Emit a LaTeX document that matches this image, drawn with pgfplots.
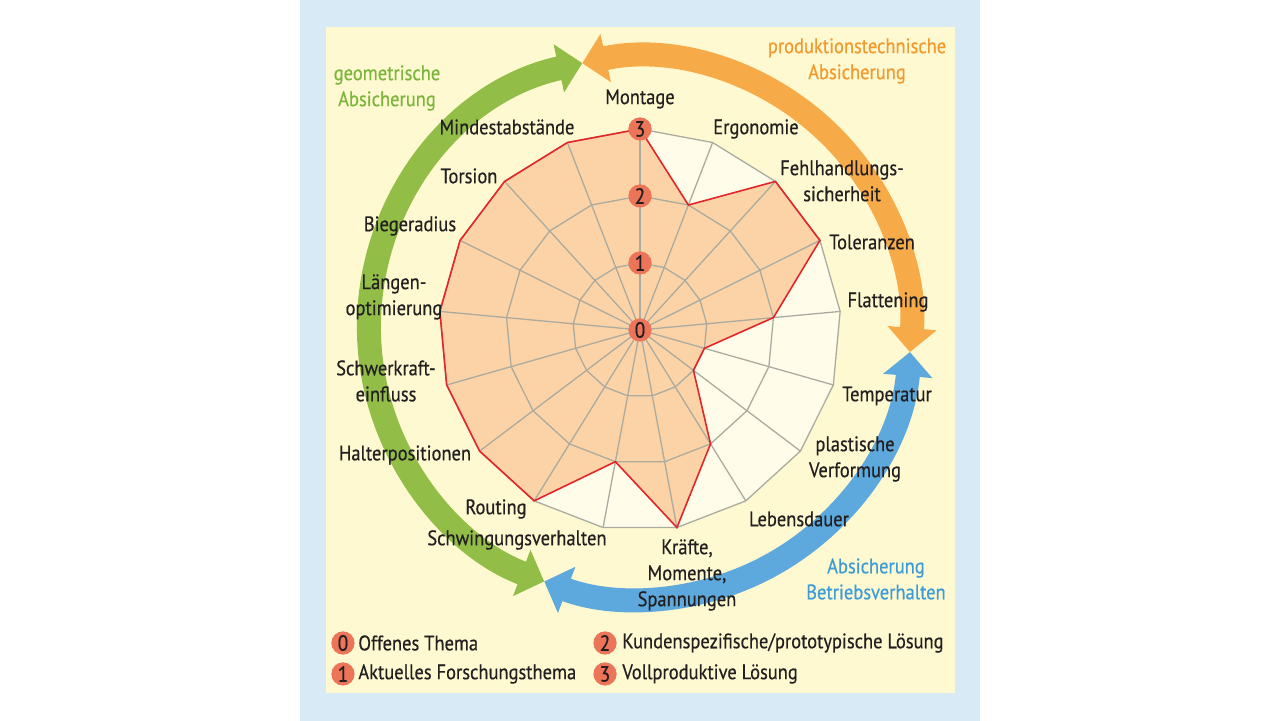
\documentclass[border=0pt]{standalone}
\usepackage{fontspec}
\setmainfont{PT Sans}[FakeStretch=0.88, FakeBold=0.5]
\usepackage{pgfplots}
\usepackage{pgfplotstable}
\pgfplotsset{compat=1.18}
\usetikzlibrary{arrows.meta}

\definecolor{frameblue}{HTML}{D7EAF6}
\definecolor{cream}{HTML}{FEF9D1}
\definecolor{innerwhite}{HTML}{FFFCEA}
\definecolor{peach}{HTML}{FBD3A6}
\definecolor{redline}{HTML}{E2262A}
\definecolor{gridgrey}{HTML}{ABAB9F}
\definecolor{salmon}{HTML}{EC7559}
\definecolor{arrgreen}{HTML}{92BE48}
\definecolor{arrorange}{HTML}{F7AA48}
\definecolor{arrblue}{HTML}{5DA9DD}
\definecolor{tgreen}{HTML}{7CB53B}
\definecolor{torange}{HTML}{F39A2F}
\definecolor{tblue}{HTML}{3D9CD8}
\definecolor{textdark}{HTML}{231F20}

\tikzset{lbl/.style={font=\fontsize{10.5}{13}\selectfont, align=center, text=textdark, inner sep=0pt}}

% angle (deg), value, grid rings
\pgfplotstableread{
a        v  g1 g2 g3
90       3  1  2  3
68.824   2  1  2  3
47.647   3  1  2  3
26.471   3  1  2  3
5.294    2  1  2  3
-15.882  1  1  2  3
-37.059  1  1  2  3
-58.235  2  1  2  3
-79.412  3  1  2  3
-100.588 2  1  2  3
-121.765 3  1  2  3
-142.941 3  1  2  3
-164.118 3  1  2  3
-185.294 3  1  2  3
-206.471 3  1  2  3
-227.647 3  1  2  3
-248.824 3  1  2  3
-270     3  1  2  3
}\radar

\begin{document}
\begin{tikzpicture}
\begin{axis}[
  scale only axis, width=640pt, height=360.5pt,
  xmin=-9.552, xmax=9.552, ymin=-5.836, ymax=4.925,
  hide axis, clip=false,
]
% backgrounds
\fill[white] (axis cs:-9.552,-5.836) rectangle (axis cs:9.552,4.925);
\fill[frameblue] (axis cs:-5.075,-5.836) rectangle (axis cs:5.075,4.925);
\fill[cream] (axis cs:-4.687,-5.418) rectangle (axis cs:4.701,4.522);

% arrows
\draw[arrgreen, line width=12pt, {Triangle[width=24pt,length=12pt]}-{Triangle[width=24pt,length=12pt]}]
  (axis cs:0,0.03) ++(102.3:135.5pt) arc[start angle=102.3, end angle=249.3, radius=135.5pt];
\draw[arrorange, line width=12pt, {Triangle[width=24pt,length=12pt]}-{Triangle[width=24pt,length=12pt]}]
  (axis cs:0,0.03) ++(102.3:135.5pt) arc[start angle=102.3, end angle=-5.1, radius=135.5pt];
\draw[arrblue, line width=12pt, {Triangle[width=24pt,length=12pt]}-{Triangle[width=24pt,length=12pt]}]
  (axis cs:0,0.03) ++(-5.1:135.5pt) arc[start angle=-5.1, end angle=-110.7, radius=135.5pt];

% radar
\addplot[data cs=polar, fill=innerwhite, draw=none, forget plot] table[x=a,y=g3]{\radar};
\addplot[data cs=polar, fill=peach, draw=none, forget plot] table[x=a,y=v]{\radar};
\addplot[data cs=polar, gridgrey, line width=0.65pt, forget plot] table[x=a,y=g1]{\radar};
\addplot[data cs=polar, gridgrey, line width=0.65pt, forget plot] table[x=a,y=g2]{\radar};
\addplot[data cs=polar, gridgrey, line width=0.65pt, forget plot] table[x=a,y=g3]{\radar};
\pgfplotsinvokeforeach{90,68.824,47.647,26.471,5.294,-15.882,-37.059,-58.235,-79.412,-100.588,-121.765,-142.941,-164.118,-185.294,-206.471,-227.647,-248.824}{
  \addplot[data cs=polar, gridgrey, line width=0.65pt, forget plot] coordinates {(#1,0) (#1,3)};
}
\addplot[data cs=polar, redline, line width=0.8pt, line join=miter, forget plot] table[x=a,y=v]{\radar};

% scale markers
\addplot[data cs=polar, only marks, mark=*, mark size=5.6pt, mark options={fill=salmon, draw=salmon},
  point meta=explicit symbolic, nodes near coords,
  every node near coord/.append style={anchor=center, font=\fontsize{11}{12}\selectfont, text=textdark, inner sep=0pt}]
  coordinates {(90,0)[0] (90,1)[1] (90,2)[2] (90,3)[3]};

% legend markers
\addplot[only marks, mark=*, mark size=5.6pt, mark options={fill=salmon, draw=salmon},
  point meta=explicit symbolic, nodes near coords,
  every node near coord/.append style={anchor=center, font=\fontsize{11}{12}\selectfont, text=textdark, inner sep=0pt}]
  coordinates {(-4.433,-4.672)[0] (-4.433,-5.134)[1] (-0.522,-4.672)[2] (-0.522,-5.134)[3]};

% category labels
\node[lbl] at (axis cs:0,3.448) {Montage};
\node[lbl] at (axis cs:1.731,3.0) {Ergonomie};
\node[lbl] at (axis cs:3.015,2.224) {Fehlhandlungs-\\sicherheit};
\node[lbl] at (axis cs:3.463,1.313) {Toleranzen};
\node[lbl] at (axis cs:3.701,0.418) {Flattening};
\node[lbl] at (axis cs:3.687,-0.985) {Temperatur};
\node[lbl] at (axis cs:3.209,-1.925) {plastische\\Verformung};
\node[lbl] at (axis cs:2.373,-2.821) {Lebensdauer};
\node[lbl] at (axis cs:0.701,-3.657) {Kräfte,\\Momente,\\Spannungen};
\node[lbl] at (axis cs:-1.836,-3.134) {Schwingungsverhalten};
\node[lbl] at (axis cs:-2.149,-2.672) {Routing};
\node[lbl] at (axis cs:-3.507,-1.866) {Halterpositionen};
\node[lbl] at (axis cs:-3.791,-0.761) {Schwerkraft-\\einfluss};
\node[lbl] at (axis cs:-3.672,0.493) {Längen-\\optimierung};
\node[lbl] at (axis cs:-3.433,1.552) {Biegeradius};
\node[lbl] at (axis cs:-2.552,2.299) {Torsion};
\node[lbl] at (axis cs:-1.985,3.030) {Mindestabstände};

% group titles
\node[lbl, text=tgreen] at (axis cs:-3.776,3.612) {geometrische\\Absicherung};
\node[lbl, text=torange] at (axis cs:3.239,4.015) {produktionstechnische\\Absicherung};
\node[lbl, text=tblue] at (axis cs:3.522,-3.716) {Absicherung\\Betriebsverhalten};

% legend texts
\node[lbl, anchor=west] at (axis cs:-4.209,-4.672) {Offenes Thema};
\node[lbl, anchor=west] at (axis cs:-4.209,-5.134) {Aktuelles Forschungsthema};
\node[lbl, anchor=west] at (axis cs:-0.269,-4.672) {Kundenspezifische/prototypische Lösung};
\node[lbl, anchor=west] at (axis cs:-0.269,-5.134) {Vollproduktive Lösung};
\end{axis}
\end{tikzpicture}
\end{document}
